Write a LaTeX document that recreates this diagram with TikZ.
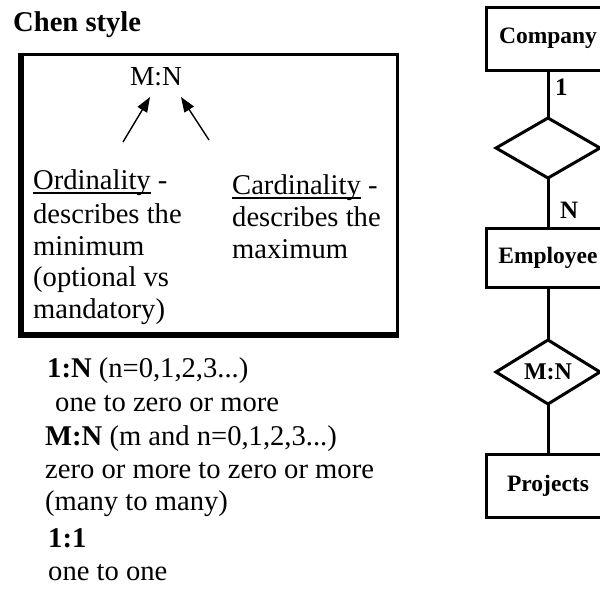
\documentclass[tikz,border=0pt]{standalone}
\usepackage{fontspec}
\setmainfont{Liberation Serif}
\usetikzlibrary{arrows.meta,shapes.geometric}

% underline drawn just under the baseline, crossing descenders
\newcommand\ulword[1]{\setbox0\hbox{#1}\rlap{\rule[-4.5pt]{\wd0}{1.4pt}}\box0\relax}

\tikzset{
  body/.style={anchor=base west, inner sep=0pt, font=\fontsize{28.6}{31}\selectfont},
  entity/.style={draw, line width=3pt, minimum width=124pt, inner sep=0pt,
                 font=\bfseries\fontsize{23.5}{25}\selectfont},
  relation/.style={draw, diamond, line width=3pt, minimum width=104pt, minimum height=60pt,
                   inner sep=0pt, outer sep=0pt, font=\bfseries\fontsize{24}{25}\selectfont},
  link/.style={line width=3pt},
  tag/.style={anchor=base west, inner sep=0pt, font=\bfseries\fontsize{25}{26}\selectfont},
  pointer/.style={line width=1.4pt, -{Triangle[length=15pt,width=11pt]}},
}

\begin{document}
\begin{tikzpicture}[x=1pt,y=-1pt]
\useasboundingbox (0,0) rectangle (600,595);
\clip (0,0) rectangle (600,595);

% heading
\node[anchor=base west, inner sep=0pt, font=\bfseries\fontsize{28.6}{31}\selectfont] (title) at (13,31) {Chen style};

% framed explanation, heavier on the left and bottom edges
\draw[line width=3pt] (19.5,54.5) rectangle (397,336);
\draw[line width=3.5pt] (22,56) -- (22,333.5) -- (396,333.5);

\node[anchor=base, inner sep=0pt, font=\fontsize{27.5}{29}\selectfont] (mn) at (156,85) {M:N};
\coordinate (ordtail) at (123,142);
\coordinate (ordtip) at (150,97);
\coordinate (cardtail) at (209,140);
\coordinate (cardtip) at (181,97);
\draw[pointer] (ordtail) -- (ordtip);
\draw[pointer] (cardtail) -- (cardtip);

\node[body] (ord1) at (33,189) {\ulword{Ordinality} -};
\node[body] (ord2) at (33,223) {describes the};
\node[body] (ord3) at (33,255) {minimum};
\node[body] (ord4) at (33,286.5) {(optional vs};
\node[body] (ord5) at (33,318) {mandatory)};

\node[body] (card1) at (232,194) {\ulword{Cardinality} -};
\node[body] (card2) at (232,226) {describes the};
\node[body] (card3) at (232,258) {maximum};

% notation legend
\node[body] (oneN) at (47,377) {\textbf{1:N} (n=0,1,2,3...)};
\node[body] (oneNtxt) at (55,411) {one to zero or more};
\node[body] (manyN) at (45,445) {\textbf{M:N} (m and n=0,1,2,3...)};
\node[body] (manyNtxt) at (45,478) {zero or more to zero or more};
\node[body] (manyNtxt2) at (45,510) {(many to many)};
\node[body] (oneone) at (48,547) {\textbf{1:1}};
\node[body] (oneonetxt) at (48,580) {one to one};

% ER diagram
\node[entity, minimum height=63pt] (company) at (548,38.5) {Company};
\node[relation] (works) at (548,148) {};
\node[entity, minimum height=59pt] (employee) at (548,257.5) {Employee};
\node[relation] (assigned) at (548,372) {M:N};
\node[entity, minimum height=63pt] (projects) at (548,485.5) {Projects};

\draw[link] (company.south) -- (works.north);
\draw[link] (works.south) -- (employee.north);
\draw[link] (employee.south) -- (assigned.north);
\draw[link] (assigned.south) -- (projects.north);

\node[tag] (one) at (555,95) {1};
\node[tag] (many) at (560,218) {N};
\end{tikzpicture}
\end{document}
